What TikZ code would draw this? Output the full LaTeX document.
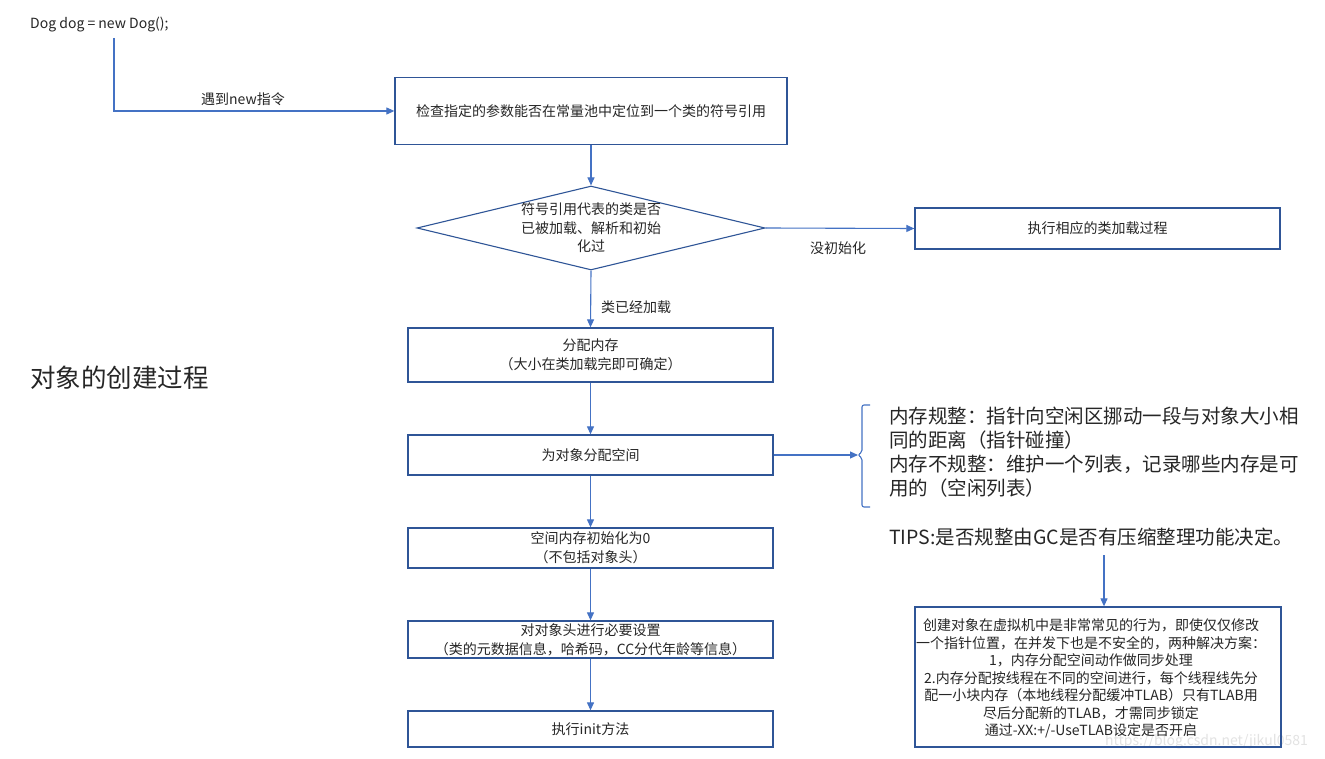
\documentclass[tikz,border=0pt]{standalone}
\usepackage{fontspec}
\setmainfont{Noto Sans CJK SC}
\usetikzlibrary{shapes.geometric,arrows.meta}

\definecolor{boxblue}{HTML}{2F5597}
\definecolor{lineblue}{HTML}{4472C4}
\definecolor{inktext}{HTML}{262626}
\definecolor{markgray}{HTML}{E3E3E3}

\tikzset{
  stepbox/.style={draw=boxblue, line width=1.3pt, inner sep=0pt, align=center,
    text=inktext, font=\fontsize{14}{19}\selectfont},
  decision/.style={diamond, draw=boxblue, line width=1.1pt, inner sep=0pt,
    minimum width=348pt, minimum height=84pt},
  flow/.style={draw=lineblue, line width=1.1pt, -{Triangle[length=8pt,width=7pt]}},
  lbl/.style={text=inktext, font=\fontsize{14}{18}\selectfont, inner sep=0pt},
}

\begin{document}
\begin{tikzpicture}[x=1pt,y=-1pt]
\useasboundingbox (0,0) rectangle (1325,759);
\fill[white] (0,0) rectangle (1325,759);

% watermark
\node[text=markgray, font=\fontsize{14}{14}\selectfont, anchor=west, inner sep=0pt]
  (mark) at (1105,742) {https://blog.csdn.net/jikul0581};

% title and source line
\node[text=inktext, font=\fontsize{25.5}{30}\selectfont, anchor=west, inner sep=0pt]
  (title) at (30,378) {对象的创建过程};
\node[text=inktext, font=\fontsize{14}{16}\selectfont, anchor=west, inner sep=0pt]
  (code) at (30,25) {Dog dog = new Dog();};
\coordinate (codefoot) at (114,38);

% main column
\node[stepbox, minimum width=392pt, minimum height=67pt] (lookup) at (591,111)
  {检查指定的参数能否在常量池中定位到一个类的符号引用};
\node[decision] (loaded) at (591,228) {};
\node[lbl, text width=150pt, align=center, font=\fontsize{14}{18.5}\selectfont] (loadedtxt) at (591,228)
  {符号引用代表的类是否\\已被加载、解析和初始\\化过};
\node[stepbox, minimum width=365pt, minimum height=41pt] (classload) at (1097.5,228.5)
  {执行相应的类加载过程};
\node[stepbox, minimum width=365pt, minimum height=54pt] (alloc) at (590.5,355)
  {分配内存\\（大小在类加载完即可确定）};
\node[stepbox, minimum width=365pt, minimum height=40pt] (space) at (590.5,455)
  {为对象分配空间};
\node[stepbox, minimum width=365pt, minimum height=40pt] (zero) at (590.5,548)
  {空间内存初始化为0\\（不包括对象头）};
\node[stepbox, minimum width=365pt, minimum height=37pt] (header) at (590.5,639.5)
  {对对象头进行必要设置\\（类的元数据信息，哈希码，CC分代年龄等信息）};
\node[stepbox, minimum width=365pt, minimum height=36pt] (init) at (590.5,729)
  {执行init方法};

% right side notes
\draw[lineblue, line width=1.1pt, rounded corners=2pt]
  (870,405) -- (862,405) -- (862,452) -- (858,455) -- (862,458) -- (862,507) -- (870,507);
\coordinate (bracetip) at (858,455);
\node[lbl, anchor=west, align=left, font=\fontsize{19.5}{24}\selectfont] (pointer) at (889,452)
  {内存规整：指针向空闲区挪动一段与对象大小相\\同的距离（指针碰撞）\\内存不规整：维护一个列表，记录哪些内存是可\\用的（空闲列表）};
\node[lbl, anchor=west, font=\fontsize{19.5}{24}\selectfont] (tips) at (889,537)
  {TIPS:是否规整由GC是否有压缩整理功能决定。};
\coordinate (tipsfoot) at (1104,555);
\node[stepbox, minimum width=366pt, minimum height=140pt] (tlab) at (1098,677) {};
\node[lbl, text width=360pt, align=center, font=\fontsize{14}{17.5}\selectfont] (tlabtxt) at (1091,678.5)
  {创建对象在虚拟机中是非常常见的行为，即使仅仅修改\\一个指针位置，在并发下也是不安全的，两种解决方案：\\1，内存分配空间动作做同步处理\\2.内存分配按线程在不同的空间进行，每个线程线先分\\配一小块内存（本地线程分配缓冲TLAB）只有TLAB用\\尽后分配新的TLAB，才需同步锁定\\通过-XX:+/-UseTLAB设定是否开启};

% connectors
\draw[flow] (codefoot) |- (lookup.west);
\node[lbl] (newlbl) at (243,99) {遇到new指令};
\draw[flow] (lookup.south) -- (loaded.north);
\draw[flow] (loaded.east) -- (classload.west);
\node[lbl] (nolbl) at (838,248) {没初始化};
\draw[flow] (loaded.south) -- (alloc.north);
\node[lbl] (yeslbl) at (636,307) {类已经加载};
\draw[flow] (alloc.south) -- (space.north);
\draw[flow] (space.east) -- (bracetip);
\draw[flow] (space.south) -- (zero.north);
\draw[flow] (zero.south) -- (header.north);
\draw[flow] (header.south) -- (init.north);
\draw[flow] (tipsfoot) -- (tlab.north -| tipsfoot);
\end{tikzpicture}
\end{document}
